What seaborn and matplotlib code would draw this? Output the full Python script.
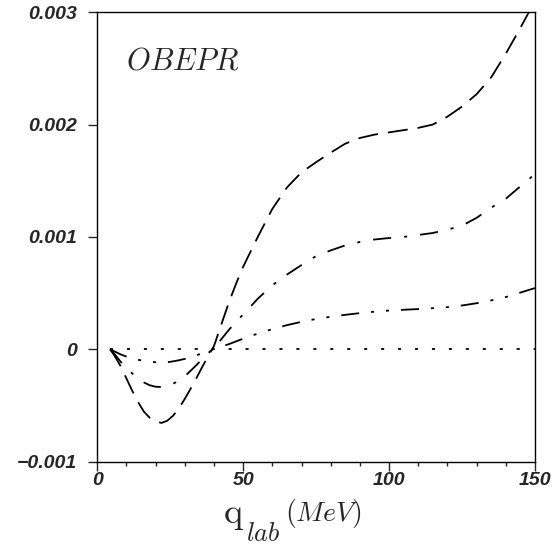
import matplotlib
matplotlib.use("Agg")
import matplotlib.pyplot as plt
import seaborn as sns
import pandas as pd
from matplotlib.ticker import FixedLocator, MultipleLocator

# ---- data (values in units of 1e-3) ----
q_lab = [4.4, 6, 8, 10, 12, 14, 16, 18, 20, 22, 24, 26, 28, 30, 32, 34, 36, 38, 40,
         42.5, 45, 47.5, 50, 55, 60, 65, 70, 75, 80, 85, 90, 95, 100, 105, 110, 115,
         120, 125, 130, 135, 140, 145, 150]
dashed = [0, -0.06, -0.15, -0.26, -0.37, -0.47, -0.555, -0.61, -0.64, -0.655, -0.635,
          -0.59, -0.525, -0.44, -0.35, -0.255, -0.155, -0.06, 0.03,
          0.22, 0.41, 0.58, 0.735, 1.0, 1.25, 1.44, 1.575, 1.665, 1.75, 1.83, 1.88,
          1.91, 1.93, 1.95, 1.97, 2.0, 2.07, 2.16, 2.27, 2.42, 2.63, 2.86, 3.1]
dashdot = [0, -0.045, -0.11, -0.165, -0.215, -0.26, -0.295, -0.32, -0.333, -0.335,
           -0.325, -0.305, -0.28, -0.24, -0.19, -0.14, -0.085, -0.035, 0.015,
           0.09, 0.17, 0.245, 0.31, 0.45, 0.57, 0.665, 0.75, 0.83, 0.88, 0.925, 0.955,
           0.977, 0.99, 1.0, 1.017, 1.035, 1.065, 1.10, 1.17, 1.26, 1.34, 1.45, 1.56]
dashdotdot = [0, -0.02, -0.045, -0.065, -0.08, -0.093, -0.103, -0.11, -0.115, -0.117,
              -0.115, -0.107, -0.097, -0.085, -0.07, -0.053, -0.035, -0.016, 0.003,
              0.024, 0.045, 0.07, 0.095, 0.14, 0.18, 0.215, 0.245, 0.27, 0.29, 0.307,
              0.322, 0.335, 0.345, 0.352, 0.358, 0.366, 0.375, 0.39, 0.41, 0.435, 0.465,
              0.505, 0.545]
dotted = [0] * len(q_lab)

y_ticks = [-1, 0, 1, 2, 3]
y_ticklabels = ["\u22120.001", "0", "0.001", "0.002", "0.003"]
x_ticks = [0, 50, 100, 150]
x_ticklabels = ["0", "50", "100", "150"]
label_text = r"$OBEPR$"

sns.set_style("ticks")
plt.rcParams["lines.scale_dashes"] = False
plt.rcParams["mathtext.fontset"] = "cm"
plt.rcParams["font.family"] = ["Liberation Sans", "DejaVu Sans"]

rows = []
for name, vals in [("dashed", dashed), ("dashdot", dashdot),
                   ("dashdotdot", dashdotdot), ("dotted", dotted)]:
    for x, v in zip(q_lab, vals):
        rows.append({"q": x, "val": v, "curve": name})
df = pd.DataFrame(rows)

dash_styles = {
    "dashed": (14.4, 7.2),
    "dashdot": (13, 9.4, 2.2, 9.4),
    "dashdotdot": (13, 8.6, 2.2, 8.6, 2.2, 8.6),
    "dotted": (2.2, 10),
}

fig = plt.figure(figsize=(5.54, 5.45), dpi=100)
ax = fig.add_axes([0.1756, 0.1528, 0.9657 - 0.1756, 0.9778 - 0.1528])

sns.lineplot(data=df, x="q", y="val", style="curve", dashes=dash_styles,
             color="black", linewidth=1.3, legend=False, sort=False,
             estimator=None, ax=ax)

ax.set_xlim(0, 150)
ax.set_ylim(-1, 3)

ax.yaxis.set_major_locator(FixedLocator(y_ticks))
ax.set_yticklabels(y_ticklabels)
ax.xaxis.set_major_locator(FixedLocator(x_ticks))
ax.set_xticklabels(x_ticklabels)
ax.xaxis.set_minor_locator(MultipleLocator(10))

for lab in ax.get_xticklabels() + ax.get_yticklabels():
    lab.set_fontweight("bold")
    lab.set_fontstyle("italic")
    lab.set_fontsize(14)

ax.tick_params(axis="y", which="major", direction="out", length=6.5, width=1.0, pad=8)
ax.tick_params(axis="x", which="major", direction="out", length=6.5, width=1.0, pad=1)
ax.tick_params(axis="x", which="minor", direction="out", length=3.2, width=1.0)

for sp in ax.spines.values():
    sp.set_visible(True)
    sp.set_linewidth(1.0)
    sp.set_color("black")

ax.set_xlabel("")
ax.set_ylabel("")

# x-axis label: q_lab (MeV)
fig.text(223 / 554, 1 - 523 / 545, r"$\mathrm{q}$", fontsize=26,
         ha="left", va="baseline")
fig.text(246 / 554, 1 - 541 / 545, r"$lab$", fontsize=19,
         ha="left", va="baseline")
fig.text(285 / 554, 1 - 521 / 545, r"$(MeV)$", fontsize=20,
         ha="left", va="baseline")

ax.text(0.065, 0.872, label_text, transform=ax.transAxes, fontsize=22,
        ha="left", va="baseline")

fig.savefig("out.png", dpi=100)
